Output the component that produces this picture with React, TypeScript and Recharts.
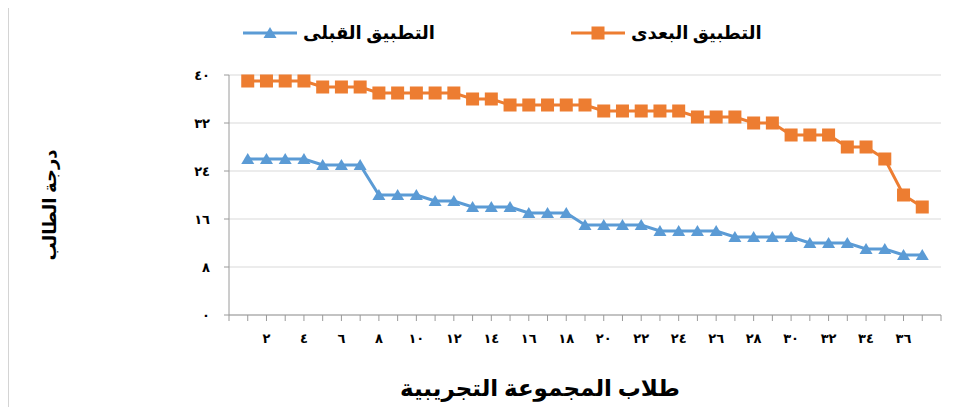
import { CartesianGrid, Label, Legend, Line, LineChart, XAxis, YAxis } from "recharts";

const students = [
  1, 2, 3, 4, 5, 6, 7, 8, 9, 10, 11, 12, 13, 14, 15, 16, 17, 18, 19, 20, 21, 22, 23, 24, 25,
  26, 27, 28, 29, 30, 31, 32, 33, 34, 35, 36, 37,
];
const beforeScores = [
  26, 26, 26, 26, 25, 25, 25, 20, 20, 20, 19, 19, 18, 18, 18, 17, 17, 17, 15, 15, 15, 15, 14, 14,
  14, 14, 13, 13, 13, 13, 12, 12, 12, 11, 11, 10, 10,
];
const afterScores = [
  39, 39, 39, 39, 38, 38, 38, 37, 37, 37, 37, 37, 36, 36, 35, 35, 35, 35, 35, 34, 34, 34, 34, 34,
  33, 33, 33, 32, 32, 30, 30, 30, 28, 28, 26, 20, 18,
];
const beforeName = "التطبيق القبلى";
const afterName = "التطبيق البعدى";
const yTitle = "درجة الطالب";
const xTitle = "طلاب المجموعة التجريبية";
const yTicks = [0, 8, 16, 24, 32, 40];
const xTicks = [
  0, 1, 2, 3, 4, 5, 6, 7, 8, 9, 10, 11, 12, 13, 14, 15, 16, 17, 18, 19, 20, 21, 22, 23, 24, 25,
  26, 27, 28, 29, 30, 31, 32, 33, 34, 35, 36, 37, 38,
];
const xLabelled = [2, 4, 6, 8, 10, 12, 14, 16, 18, 20, 22, 24, 26, 28, 30, 32, 34, 36];

const BLUE = "#5B9BD5";
const ORANGE = "#ED7D31";
const FONT = '"Times New Roman", "DejaVu Sans", serif';

const data = students.map((s, i) => ({ student: s, before: beforeScores[i], after: afterScores[i] }));

const arabic = (n: number) => String(n).replace(/\d/g, (d) => "٠١٢٣٤٥٦٧٨٩"[Number(d)]);

function Triangle({ cx, cy }: any) {
  if (cx == null || cy == null) return <g />;
  return <polygon points={`${cx},${cy - 6} ${cx - 6.5},${cy + 5} ${cx + 6.5},${cy + 5}`} fill={BLUE} />;
}

function Square({ cx, cy }: any) {
  if (cx == null || cy == null) return <g />;
  return <rect x={cx - 6.5} y={cy - 6.5} width={13} height={13} fill={ORANGE} />;
}

function XTick({ x, y, payload }: any) {
  if (!xLabelled.includes(payload.value)) return <g />;
  return (
    <text x={x} y={y} dy={20} textAnchor="middle" fontSize={13} fontWeight="bold" fill="#000" fontFamily={FONT}>
      {arabic(payload.value)}
    </text>
  );
}

function YTick({ x, y, payload }: any) {
  return (
    <text x={x} y={y} dy={5} textAnchor="end" fontSize={13} fontWeight="bold" fill="#000" fontFamily={FONT}>
      {arabic(payload.value)}
    </text>
  );
}

function LegendItem({ left, name, color, square }: { left: number; name: string; color: string; square?: boolean }) {
  return (
    <div style={{ position: "absolute", left, top: 22, display: "flex", alignItems: "center", whiteSpace: "nowrap" }}>
      <svg width={54} height={16}>
        <line x1={0} y1={8} x2={54} y2={8} stroke={color} strokeWidth={3} />
        {square ? (
          <rect x={20.5} y={1.5} width={13} height={13} fill={color} />
        ) : (
          <polygon points="27,2 20.5,13 33.5,13" fill={color} />
        )}
      </svg>
      <span style={{ marginLeft: 6, fontFamily: FONT, fontWeight: "bold", fontSize: 18, direction: "rtl" }}>{name}</span>
    </div>
  );
}

const renderLegend = () => (
  <div style={{ position: "relative", height: 0 }}>
    <LegendItem left={243} name={beforeName} color={BLUE} />
    <LegendItem left={571} name={afterName} color={ORANGE} square />
  </div>
);

export default function App() {
  return (
    <div style={{ margin: -8, width: 978, height: 415, position: "relative", overflow: "hidden", background: "#fff" }}>
      <div
        style={{
          position: "absolute",
          left: 8,
          top: 3,
          width: 990,
          height: 408,
          border: "1px solid #d4d4d4",
          boxShadow: "-2px 2px 3px rgba(0,0,0,0.3)",
        }}
      />
      <div style={{ position: "absolute", left: 0, top: 0 }}>
        <LineChart width={978} height={415} data={data} margin={{ top: 75, right: 37, bottom: 70, left: 0 }}>
          <CartesianGrid vertical={false} stroke="#d9d9d9" />
          <XAxis
            dataKey="student"
            type="number"
            domain={[0, 38]}
            ticks={xTicks}
            interval={0}
            height={30}
            stroke="#9a9a9a"
            tickSize={6}
            tickMargin={2}
            tick={<XTick />}
          >
            <Label
              content={() => (
                <text x={540} y={396} textAnchor="middle" fontSize={23} fontWeight="bold" fill="#000" fontFamily={FONT}>
                  {xTitle}
                </text>
              )}
            />
          </XAxis>
          <YAxis
            width={229}
            domain={[0, 40]}
            ticks={yTicks}
            interval={0}
            stroke="#9a9a9a"
            tickSize={5}
            tickMargin={14}
            tick={<YTick />}
          >
            <Label
              content={() => (
                <text
                  x={50}
                  y={205}
                  transform="rotate(-90 50 205)"
                  textAnchor="middle"
                  dominantBaseline="central"
                  fontSize={18}
                  fontWeight="bold"
                  fill="#000"
                  fontFamily={FONT}
                >
                  {yTitle}
                </text>
              )}
            />
          </YAxis>
          <Legend content={renderLegend} wrapperStyle={{ top: 0, left: 0, width: 978, height: 0 }} />
          <Line
            name={beforeName}
            dataKey="before"
            stroke={BLUE}
            strokeWidth={3}
            dot={<Triangle />}
            activeDot={false}
            isAnimationActive={false}
          />
          <Line
            name={afterName}
            dataKey="after"
            stroke={ORANGE}
            strokeWidth={3}
            dot={<Square />}
            activeDot={false}
            isAnimationActive={false}
          />
        </LineChart>
      </div>
    </div>
  );
}
